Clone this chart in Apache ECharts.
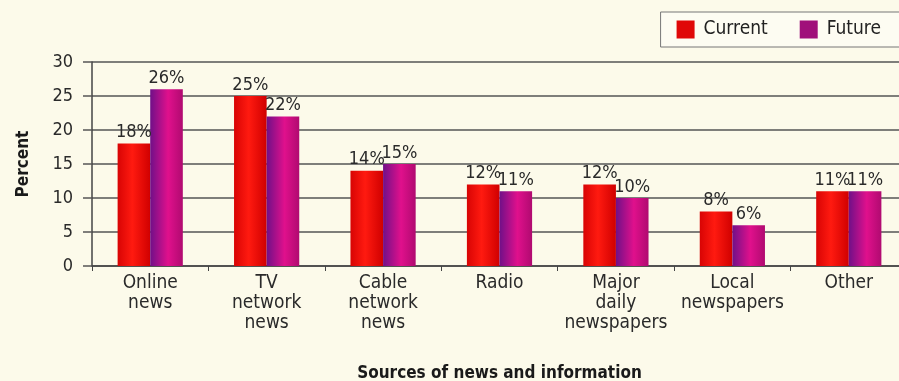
<!DOCTYPE html>
<html>
<head>
<meta charset="utf-8">
<script src="https://cdn.jsdelivr.net/npm/echarts@6/dist/echarts.min.js"></script>
<style>
html, body { margin: 0; padding: 0; background: #fcfaea; }
#main { width: 899px; height: 381px; }
</style>
</head>
<body>
<div id="main"></div>
<script>
var sources = ['Online\nnews', 'TV\nnetwork\nnews', 'Cable\nnetwork\nnews', 'Radio',
	'Major\ndaily\nnewspapers', 'Local\nnewspapers', 'Other'];
var current = [18, 25, 14, 12, 12, 8, 11];
var future = [26, 22, 15, 11, 10, 6, 11];
var yTicks = [0, 5, 10, 15, 20, 25, 30];

var fontFam = '"Liberation Sans Narrow", "DejaVu Sans Condensed", "Roboto Condensed", sans-serif';

function grad(stops) {
	return new echarts.graphic.LinearGradient(0, 0, 1, 0, stops);
}

var redFill = grad([
	{ offset: 0, color: '#d80404' },
	{ offset: 0.45, color: '#ff1a10' },
	{ offset: 1, color: '#d00000' }
]);
var magFill = grad([
	{ offset: 0, color: '#701088' },
	{ offset: 0.55, color: '#e0108c' },
	{ offset: 1, color: '#b00a70' }
]);

var barLabel = {
	show: true,
	position: 'top',
	distance: 2,
	formatter: '{c}%',
	fontFamily: fontFam,
	fontSize: 18,
	color: '#2a2a2a'
};

var option = {
	backgroundColor: '#fcfaea',
	animation: false,
	grid: { left: 92, right: -8, top: 62, bottom: 115, outerBoundsMode: 'none', containLabel: false },
	legend: {
		orient: 'horizontal',
		right: -4,
		top: 12,
		width: 300,
		padding: [8, 22, 8, 16],
		borderColor: '#777',
		borderWidth: 1,
		backgroundColor: '#fdfcf2',
		icon: 'rect',
		itemWidth: 18,
		itemHeight: 18,
		itemGap: 32,
		textStyle: { fontFamily: fontFam, fontSize: 19, color: '#222', padding: [0, 0, 0, 4] },
		data: [
			{ name: 'Current', itemStyle: { color: '#e00808' } },
			{ name: 'Future', itemStyle: { color: '#a0107a' } }
		]
	},
	xAxis: {
		type: 'category',
		data: sources,
		name: 'Sources of news and information',
		nameLocation: 'middle',
		nameGap: 99,
		nameTextStyle: { fontFamily: fontFam, fontSize: 17, fontWeight: 'bold', color: '#1a1a1a' },
		axisLine: { lineStyle: { color: '#444', width: 1.5 } },
		axisTick: { show: true, interval: 0, length: 5, lineStyle: { color: '#444' } },
		axisLabel: { interval: 0, fontFamily: fontFam, fontSize: 19, color: '#2a2a2a', lineHeight: 20, margin: 7 }
	},
	yAxis: {
		type: 'value',
		min: 0,
		max: 30,
		interval: 5,
		name: 'Percent',
		nameLocation: 'middle',
		nameGap: 60,
		nameTextStyle: { fontFamily: fontFam, fontSize: 17, fontWeight: 'bold', color: '#1a1a1a' },
		axisLine: { show: true, lineStyle: { color: '#444', width: 1.5 } },
		axisTick: { show: true, length: 9, lineStyle: { color: '#555', width: 1.5 } },
		axisLabel: {
			fontFamily: fontFam, fontSize: 18, color: '#2a2a2a', margin: 19,
			formatter: function (v) { return yTicks.indexOf(v) >= 0 ? String(v) : ''; }
		},
		splitLine: { lineStyle: { color: '#555', width: 1.5 } }
	},
	series: [
		{
			name: 'Current',
			type: 'bar',
			data: current,
			barGap: '0%',
			barCategoryGap: '44%',
			itemStyle: { color: redFill },
			label: barLabel
		},
		{
			name: 'Future',
			type: 'bar',
			data: future,
			itemStyle: { color: magFill },
			label: barLabel
		}
	]
};

var myChart = echarts.init(document.getElementById('main'));
myChart.setOption(option);
</script>
</body>
</html>
